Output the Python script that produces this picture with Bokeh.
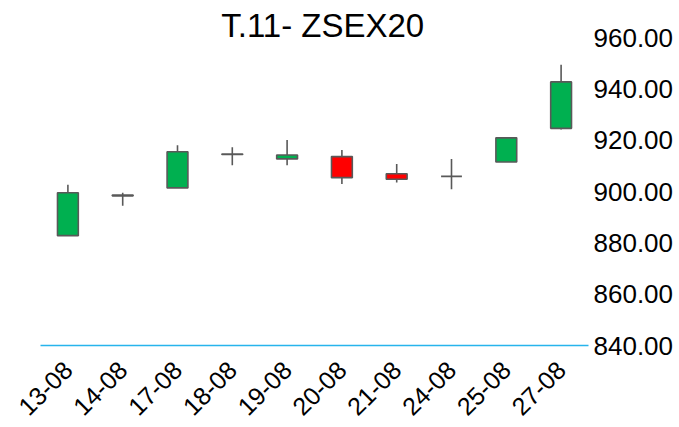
import math
from bokeh.plotting import figure
from bokeh.models import Range1d, FixedTicker, NumeralTickFormatter, Label
from bokeh.embed import file_html
from bokeh.resources import INLINE

# ---- data ----
dates = ["13-08", "14-08", "17-08", "18-08", "19-08", "20-08", "21-08", "24-08", "25-08", "27-08"]
opens = [882.8, 898.3, 901.4, 914.4, 912.7, 913.6, 906.9, 905.9, 911.5, 924.6]
highs = [902.6, 899.5, 918.0, 917.2, 920.1, 916.2, 910.7, 912.7, 920.9, 949.4]
lows = [882.8, 894.4, 901.4, 910.2, 910.2, 902.9, 903.5, 900.9, 911.5, 924.2]
closes = [899.5, 898.6, 915.5, 914.6, 914.2, 905.4, 904.8, 905.9, 920.9, 942.7]
y_ticks = [840, 860, 880, 900, 920, 940, 960]
title_text = "T.11- ZSEX20"

UP = "#00B050"
DOWN = "#FF0000"
EDGE = "#595959"

xs = list(range(len(dates)))
tops = [max(o, c) for o, c in zip(opens, closes)]
bottoms = [min(o, c) for o, c in zip(opens, closes)]
colors = [UP if c >= o else DOWN for o, c in zip(opens, closes)]

p = figure(width=679, height=427, output_backend="svg", toolbar_location=None,
           x_range=Range1d(-0.5, len(dates) - 0.5), y_range=Range1d(840, 971.3),
           y_axis_location="right",
           min_border_left=40, min_border_right=91, min_border_top=8, min_border_bottom=82)
p.outline_line_color = None
p.grid.visible = False
p.background_fill_color = "white"
p.border_fill_color = "white"

p.segment(x0=xs, y0=highs, x1=xs, y1=lows, line_color=EDGE, line_width=1.6)
p.vbar(x=xs, width=0.38, top=tops, bottom=bottoms, fill_color=colors,
       line_color=EDGE, line_width=1.6)

# y axis (right)
ya = p.yaxis[0]
ya.ticker = FixedTicker(ticks=y_ticks)
ya.formatter = NumeralTickFormatter(format="0.00")
ya.axis_line_color = None
ya.major_tick_line_color = None
ya.minor_tick_line_color = None
ya.major_tick_out = 0
ya.major_tick_in = 0
ya.minor_tick_out = 0
ya.major_label_standoff = 5
ya.major_label_text_font = "Liberation Sans"
ya.major_label_text_font_size = "26px"
ya.major_label_text_color = "black"

# x axis
xa = p.xaxis[0]
xa.ticker = FixedTicker(ticks=xs)
xa.major_label_overrides = {i: d for i, d in zip(xs, dates)}
xa.major_label_orientation = math.pi / 4
xa.axis_line_color = "#27B4EC"
xa.axis_line_width = 1.5
xa.major_tick_line_color = None
xa.minor_tick_line_color = None
xa.major_tick_out = 0
xa.major_tick_in = 0
xa.minor_tick_out = 0
xa.major_label_text_font = "Liberation Sans"
xa.major_label_text_font_size = "25px"
xa.major_label_text_color = "black"
xa.major_label_standoff = 20

p.add_layout(Label(x=4.65, y=964.8, text=title_text, text_align="center",
                   text_baseline="alphabetic", text_font="Liberation Sans",
                   text_font_size="33px", text_color="black"))

open("out.html", "w").write(file_html(p, INLINE))
